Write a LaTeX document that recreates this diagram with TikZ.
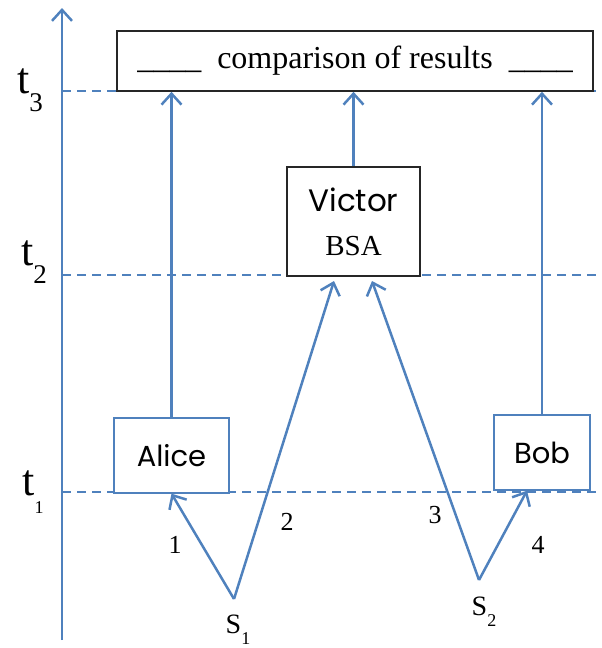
\documentclass[tikz,border=0pt]{standalone}
\usepackage{fontspec}
\setmainfont{Liberation Serif}
\newfontfamily\handfont{Poppins}
\usetikzlibrary{arrows.meta}
\definecolor{lineblue}{RGB}{79,129,189}
\tikzset{
  flow/.style={-{Straight Barb[length=11pt,width=20pt]},draw=lineblue,line width=2.5pt},
  timeline/.style={draw=lineblue,line width=1.8pt,dash pattern=on 9pt off 6pt},
  partybox/.style={draw=lineblue,line width=1.3pt,fill=white,minimum height=75pt,font=\handfont\fontsize{29}{29}\selectfont},
  resultbox/.style={draw=black!85,line width=1.6pt,fill=white},
  numlabel/.style={font=\fontsize{26}{26}\selectfont},
  timelabel/.style={font=\fontsize{44}{44}\selectfont},
}
\newcommand{\tlab}[2]{t\raisebox{-0.4em}{\fontsize{#2}{#2}\selectfont #1}}
\newcommand{\slab}[1]{S\raisebox{-0.4em}{\fontsize{18}{18}\selectfont #1}}

\begin{document}
\begin{tikzpicture}[x=1pt,y=-1pt]
\useasboundingbox (0,0) rectangle (602,648);
% time axis
\coordinate (O) at (62,640);
\coordinate (T) at (62,8);
\draw[flow] (O) -- (T);
\coordinate (L1) at (62,492);
\coordinate (R1) at (602,492);
\coordinate (L2) at (62,275);
\coordinate (R2) at (602,275);
\coordinate (L3) at (62,91);
\coordinate (R3) at (602,91);
\draw[timeline] (L1) -- (R1);
\draw[timeline] (L2) -- (R2);
\draw[timeline] (L3) -- (R3);
\node[timelabel] (t1) at (33,492) {\tlab{1}{18}};
\node[timelabel] (t2) at (34,262) {\tlab{2}{27}};
\node[timelabel] (t3) at (30,90) {\tlab{3}{27}};

% boxes
\node[resultbox,minimum width=476pt,minimum height=60pt,font=\fontsize{32}{32}\selectfont] (R) at (355,61) {\_\_\_\_~~comparison of results~~\_\_\_\_};
\node[resultbox,minimum width=133pt,minimum height=109pt,align=center,font=\fontsize{29}{44}\selectfont] (V) at (353.5,221.5) {{\handfont\fontsize{31}{44}\selectfont Victor}\\BSA};
\node[partybox,minimum width=115pt] (A) at (171.5,455.5) {Alice};
\node[partybox,minimum width=96pt] (B) at (542,452.5) {Bob};

% sources
\coordinate (S1) at (234,599);
\coordinate (S2) at (479,580);
\coordinate (V2) at (334,281);
\coordinate (V3) at (372,281);
\node[font=\fontsize{28}{28}\selectfont] (s1) at (238,630) {\slab{1}};
\node[font=\fontsize{28}{28}\selectfont] (s2) at (484,612) {\slab{2}};

\draw[flow] (S1) -- (A.south);
\draw[flow] (S1) -- (V2);
\draw[flow] (S2) -- (V3);
\draw[flow] (S2) -- ([xshift=-15pt]B.south);
\draw[flow] (A) -- (A |- R.south);
\draw[flow] (V) -- (V |- R.south);
\draw[flow] (B) -- (B |- R.south);

\node[numlabel] (n1) at (175,545) {1};
\node[numlabel] (n2) at (287,522) {2};
\node[numlabel] (n3) at (435,515) {3};
\node[numlabel] (n4) at (538,545) {4};

\end{tikzpicture}
\end{document}
